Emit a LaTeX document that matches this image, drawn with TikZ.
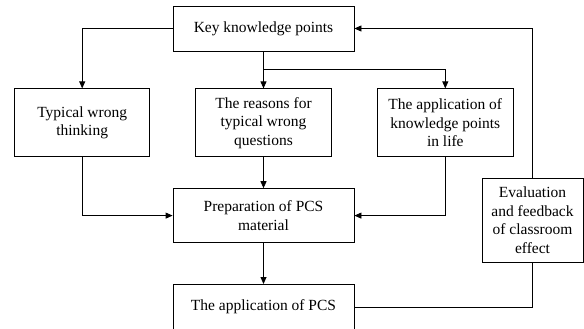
\documentclass[tikz,border=0pt]{standalone}
\usepackage{fontspec}
\setmainfont{Liberation Serif}
\usetikzlibrary{positioning,arrows.meta}

\tikzset{
  box/.style={draw, line width=0.8pt, align=center, inner sep=2pt,
    font=\fontsize{15.5}{18.5}\selectfont},
  line/.style={draw, line width=0.8pt},
  flow/.style={line, -{Triangle[length=7pt,width=6pt]}},
}

\begin{document}
\begin{tikzpicture}[x=1pt,y=1pt]
  \useasboundingbox (0,0) rectangle (584,-329);
  \node[box, minimum width=181pt, minimum height=45pt] (key) at (263.5,-28.5) {Key knowledge points};
  \node[box, minimum width=136pt, minimum height=68pt, below=37pt of key] (reason) {The reasons for\\typical wrong\\questions};
  \node[box, minimum width=135pt, minimum height=68pt, left=45pt of reason] (wrong) {Typical wrong\\thinking};
  \node[box, minimum width=136pt, minimum height=68pt, right=45pt of reason] (life) {The application of\\knowledge points\\in life};
  \node[box, minimum width=181pt, minimum height=54pt, below=31pt of reason] (prep) {Preparation of PCS\\material};
  \node[box, minimum width=181pt, minimum height=45pt, below=41pt of prep] (pcs) {The application of PCS};
  \node[box, minimum width=101pt, minimum height=84pt] (eval) at (532.5,-220) {Evaluation\\and feedback\\of classroom\\effect};
  \coordinate[below=18pt of key] (split);
  \draw[flow] (key.west) -| (wrong.north);
  \draw[flow] (key.south) -- (reason.north);
  \draw[flow] (split) -| (life.north);
  \draw[flow] (wrong.south) |- (prep.west);
  \draw[flow] (reason.south) -- (prep.north);
  \draw[flow] (life.south) |- (prep.east);
  \draw[flow] (prep.south) -- (pcs.north);
  \draw[line] (pcs.east) -| (eval.south);
  \draw[flow] (eval.north) |- (key.east);
\end{tikzpicture}
\end{document}
